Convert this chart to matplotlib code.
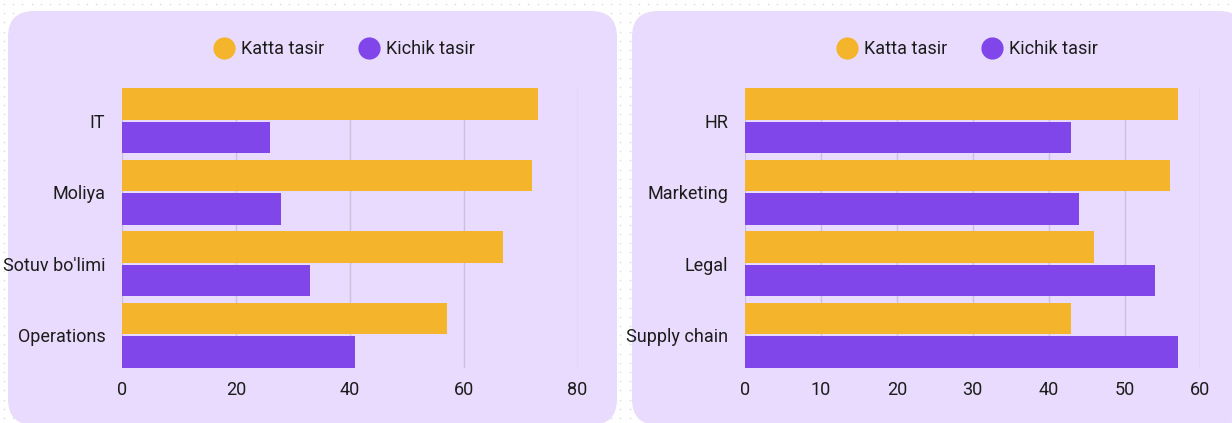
import matplotlib
matplotlib.use("Agg")
import matplotlib.pyplot as plt
from matplotlib.patches import FancyBboxPatch
from matplotlib.lines import Line2D
from matplotlib.transforms import IdentityTransform
import numpy as np

plt.rcParams['font.family'] = ['Roboto', 'DejaVu Sans']

series_names = ["Katta tasir", "Kichik tasir"]

left_categories = ["IT", "Moliya", "Sotuv bo'limi", "Operations"]
left_katta = [73, 72, 67, 57]
left_kichik = [26, 28, 33, 41]
left_ticks = [0, 20, 40, 60, 80]

right_categories = ["HR", "Marketing", "Legal", "Supply chain"]
right_katta = [57, 56, 46, 43]
right_kichik = [43, 44, 54, 57]
right_ticks = [0, 10, 20, 30, 40, 50, 60]

ORANGE = "#F4B52C"
PURPLE = "#8046EA"
PANEL = "#E8DBFD"
GRID = "#CBC0DE"
TEXT = "#1c1c1c"

W, H = 1232, 423
fig = plt.figure(figsize=(W / 100, H / 100), dpi=100)
fig.patch.set_facecolor("white")

# dotted background
bg = fig.add_axes([0, 0, 1, 1], zorder=-10)
bg.set_xlim(0, W)
bg.set_ylim(H, 0)
bg.axis("off")
gx, gy = np.meshgrid(np.arange(4, W, 9.2), np.arange(4, H, 9.2))
bg.scatter(gx.ravel(), gy.ravel(), s=1.2, color="#d9d9de", linewidths=0)

# panels (pixel coords, origin bottom-left)
for x0, x1 in [(8, 617), (632, 1245)]:
    y_top, y_bot = 11, 425
    p = FancyBboxPatch((x0, H - y_bot), x1 - x0, y_bot - y_top,
                       boxstyle="round,pad=0,rounding_size=26",
                       transform=IdentityTransform(), facecolor=PANEL,
                       edgecolor="none", zorder=-5)
    fig.patches.append(p)

FS = 13

def draw(ax_rect, cats, katta, kichik, ticks, legend_cx):
    ax = fig.add_axes(ax_rect)
    ax.set_facecolor("none")
    y = np.arange(len(cats))
    h = 0.444
    off = 0.236
    ax.barh(y - off, katta, height=h, color=ORANGE, zorder=3)
    ax.barh(y + off, kichik, height=h, color=PURPLE, zorder=3)
    ax.set_ylim(len(cats) - 1 + off + h / 2, -off - h / 2)
    ax.set_xlim(0, ticks[-1])
    ax.set_xticks(ticks)
    ax.set_yticks(y)
    ax.set_yticklabels(cats)
    ax.tick_params(axis="both", length=0, labelsize=FS, colors=TEXT)
    ax.tick_params(axis="y", pad=12)
    ax.tick_params(axis="x", pad=9)
    for s in ax.spines.values():
        s.set_visible(False)
    ax.grid(axis="x", color=GRID, linewidth=1, zorder=0)
    ax.set_axisbelow(True)
    handles = [Line2D([], [], marker="o", linestyle="none", markersize=16,
                      markerfacecolor=c, markeredgecolor="none")
               for c in (ORANGE, PURPLE)]
    fig.legend(handles, series_names, loc="center",
               bbox_to_anchor=(legend_cx / W, 1 - 49 / H), ncol=2,
               frameon=False, fontsize=FS, handletextpad=0.45,
               columnspacing=2.0, labelcolor=TEXT, handlelength=1.0)
    return ax

ax_h = (368 - 88) / H
ax_b = 1 - 368 / H
draw([122 / W, ax_b, (577.5 - 122) / W, ax_h], left_categories,
     left_katta, left_kichik, left_ticks, 345)
draw([745 / W, ax_b, (1200.4 - 745) / W, ax_h], right_categories,
     right_katta, right_kichik, right_ticks, 968)

fig.savefig("out.png", dpi=100)
